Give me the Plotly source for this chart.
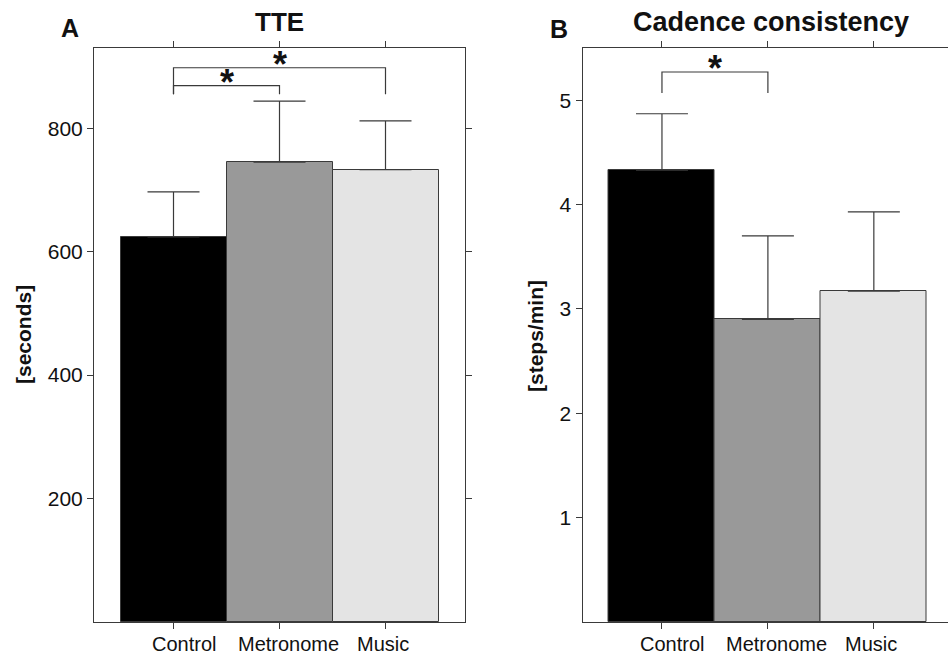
import plotly.graph_objects as go

# ---------------- data ----------------
categories = ["Control", "Metronome", "Music"]
tte_mean = [624, 745, 733]
tte_err = [73, 99, 79]
cad_mean = [4.33, 2.90, 3.17]
cad_err = [0.54, 0.80, 0.76]
tte_ticks = [200, 400, 600, 800]
cad_ticks = [1, 2, 3, 4, 5]
# significance brackets: (from category, to category, bracket height)
tte_brackets = [(0, 1, 869), (0, 2, 898)]
tte_bracket_foot = 855
cad_brackets = [(0, 1, 5.27)]
cad_bracket_foot = 5.07

# ---------------- style ----------------
W, H = 948, 657
bar_colors = ["#000000", "#999999", "#e4e4e4"]
LINE = "#3a3a3a"
FONT = "Arial, Liberation Sans, sans-serif"
label_nudge_px = [10, 9, -3]

def px_x(p):
    return p / W

def px_y(p):
    return 1 - p / H

fig = go.Figure()
xs = list(range(len(categories)))

panels = [
    dict(xa="x", ya="y", mean=tte_mean, err=tte_err, br=tte_brackets, foot=tte_bracket_foot),
    dict(xa="x2", ya="y2", mean=cad_mean, err=cad_err, br=cad_brackets, foot=cad_bracket_foot),
]

for p in panels:
    fig.add_trace(go.Bar(
        x=xs, y=p["mean"], width=1.0, xaxis=p["xa"], yaxis=p["ya"],
        marker=dict(color=bar_colors, line=dict(color=LINE, width=1)),
        error_y=dict(type="data", symmetric=False, array=p["err"],
                     arrayminus=[0] * len(xs), color=LINE, thickness=1.2, width=26),
        showlegend=False, hoverinfo="skip",
    ))
    for (a, b, h) in p["br"]:
        fig.add_trace(go.Scatter(
            x=[a, a, b, b], y=[p["foot"], h, h, p["foot"]], mode="lines",
            line=dict(color=LINE, width=1.2), xaxis=p["xa"], yaxis=p["ya"],
            showlegend=False, hoverinfo="skip",
        ))
        fig.add_annotation(x=(a + b) / 2, y=h, xref=p["xa"], yref=p["ya"],
                           text="<b>*</b>", showarrow=False, yanchor="bottom",
                           yshift=-19, font=dict(family=FONT, size=36, color="#111"))
    for i, c in enumerate(categories):
        fig.add_annotation(x=xs[i], y=px_y(644), xref=p["xa"], yref="paper",
                           text=c, showarrow=False, yanchor="middle",
                           xshift=label_nudge_px[i],
                           font=dict(family=FONT, size=20, color="#111"))

axis_common = dict(showline=True, linecolor=LINE, linewidth=1, ticks="outside",
                   ticklen=6, tickcolor=LINE, showgrid=False, zeroline=False,
                   tickfont=dict(family=FONT, size=21, color="#111"))

fig.update_layout(
    width=W, height=H, margin=dict(l=0, r=0, t=0, b=0),
    paper_bgcolor="white", plot_bgcolor="white", showlegend=False,
    bargap=0,
    xaxis=dict(domain=[px_x(94), px_x(465)], range=[-0.75, 2.75], tickvals=xs,
               showticklabels=False, mirror="ticks", anchor="y", **axis_common),
    yaxis=dict(domain=[px_y(622), px_y(48)], range=[0, 930], tickvals=tte_ticks,
               mirror="ticks", anchor="x", **axis_common),
    xaxis2=dict(domain=[px_x(582.5), 1.0], range=[-0.75, 2.70], tickvals=xs,
                showticklabels=False, mirror="ticks", anchor="y2", **axis_common),
    yaxis2=dict(domain=[px_y(622), px_y(48)], range=[0, 5.5], tickvals=cad_ticks,
                mirror=False, anchor="x2", **axis_common),
)

# titles, panel letters, axis titles
texts = [
    ("<b>TTE</b>", 279, 22, 26, 0),
    ("<b>Cadence consistency</b>", 771, 22, 27, 0),
    ("<b>A</b>", 70, 28, 25, 0),
    ("<b>B</b>", 559, 29, 25, 0),
    ("<b>[seconds]</b>", 23, 335, 21, -90),
    ("<b>[steps/min]</b>", 535, 336, 21, -90),
]
for t, x, y, s, ang in texts:
    fig.add_annotation(x=px_x(x), y=px_y(y), xref="paper", yref="paper", text=t,
                       showarrow=False, xanchor="center", yanchor="middle",
                       textangle=ang, font=dict(family=FONT, size=s, color="#111"))

fig.write_html("out.html", config={"displayModeBar": False},
               post_script="document.body.style.margin='0';")
